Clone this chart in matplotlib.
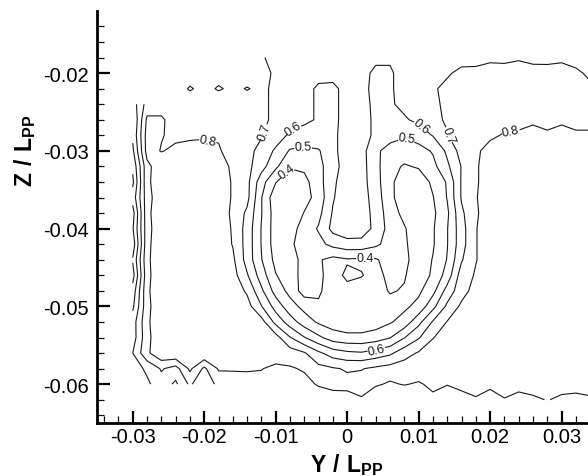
import matplotlib
matplotlib.use('Agg')
import matplotlib.pyplot as plt
import numpy as np

# fonts: Arial-like text, bold axis titles with PP subscript
plt.rcParams['font.family'] = ['Liberation Sans', 'DejaVu Sans']
plt.rcParams['axes.unicode_minus'] = False
plt.rcParams['mathtext.fontset'] = 'custom'
plt.rcParams['mathtext.rm'] = 'Liberation Sans'
plt.rcParams['mathtext.bf'] = 'Liberation Sans:bold'

# ========================== data ==========================
# measurement grid (Y / Lpp across, Z / Lpp down), step 0.002
y_coords = np.linspace(-0.030, 0.034, 33)
z_coords = np.linspace(-0.018, -0.062, 23)

# axial velocity ratio x100 (top -> bottom)
wake_rows = [
    "nan nan nan 74 75 74 75 74 73 71 67 65 64 63 64 66 65 62 61 63 65 66 67 67 66 68 67 69 67 66 68 66 66",
    "nan nan nan 74 75 74 74 75 74 72 69 66 64 62 63 66 63 58 59 63 66 68 69 72 73 74 75 74 74 75 74 72 68",
    "nan nan nan 75 69 73 69 72 69.5 72 68 64 62 59 58 63 62 58 59 63 66 69 72 74 75 75 74 75 75 74 75 74 72",
    "55 74 77 77 76 77 76 75 74 72 68 65 62 59 58 63 63 58 59 62 65 69 71 74 76 77 77 78 77 78 77 77 76",
    "50 82 81 77 76 77 76 75 74 72 68 64 62 59 58 63 64 58 56 59 62 68 71 74 76 77 78 78 79 78 79 78 78",
    "52 84 80.5 78 78 79 79 76 73 70.5 66 58 56 57 58 64 64 58 54 51 55 60.5 69.5 75 77 79 80.5 81 82 81 82 81 81",
    "48 84 79.5 82 84 83 81 76 72 68 58 49 48 49 58 64 64 52 46 45 46 51 62 74 79 82 84 85 85 86 85 86 85",
    "42 77 87 86 87 86 85 78 73 64 52 41 42 47 56 65 64 53 43 39 41 47 58 70.5 79 84 86 87 86 87 86 87 86",
    "38 78 86 87 88 88 86 79 73 54 40.5 34 37 46 58 66 64 54 42 35 34 42 51 71 79 84 86 87 88 87 88 87 87",
    "44 76 87 88 88 89 86 79 73 50.5 33 31 36 44 59 67 65 55 43 33 31 39.5 50.5 71 79.5 84 87 88 88 89 88 88 87",
    "36 77 88 89 88 89 86 78 68 50.5 35 32 40.5 47 61 68 66 56 45 37 30 38 48 68 79 84 87 88 89 88 89 88 88",
    "39 76 88 89 89 88 86 79 66 49.5 35 36 44 51 63 67 66 57 46 41 33 39 49.5 66 79.5 85.5 88 88 89 89 88 89 88",
    "34 77 88 89 89 89 86 79.5 66 49.5 35 38 45 47 53 56 56 52 46 42 33 39 49.5 66 79.5 85.5 88 89 88 89 88 89 88",
    "41 78 87 89 88 89 87 82 66 50.5 37 36 43 41 37 39 38.5 39 44 43 34 40.5 50.5 69 79.5 85.5 88 88 89 88 89 88 89",
    "36 77 88 89 89 88 88 84 71 55 40.5 35 44 42 36 42 40.5 37 42.5 41 33 42 54 75 81 86 88 89 88 89 88 89 88",
    "44 78 88 89 88 89 88 86 78.5 62 46 37 42 41.5 35 37 36 35 41 39 38 47 64 76 84 87 88 89 88 89 88 88 89",
    "48 77 88 89 88 88 89 88 84 70.5 56 44 37 38.5 36 34 33 34 36 38 43 57 72 82 86 88 89 88 89 88 89 88 88",
    "55 78 88 89 88 89 88 89 88 84 67 55 45 38.5 35 33 33 35 39 44 57 71 80.5 86 88 89 88 89 88 89 88 89 88",
    "55 77 88 89 88 89 88 89 88 89 84 70.5 60.5 52 45 43 43 45 49.5 59.5 69 79.5 85 88 89 88 89 88 89 88 89 88 89",
    "60 78 88 89 88 89 88 89 88 88 87 85 81 72 65 62 61 64 68 76 81 86 88 89 88 89 88 89 88 89 88 89 88",
    "55 62 71 66 82 68 81 81 82 80.5 77 79 81 83 81 79 79.5 82 84 85 85 86 87 86 87 88 87 88 87 88 87 88 87",
    "nan 58 66 58 72 60 74 75 72 76 73 75 77 81 82 83 84 81 79 80.5 79 82 80.5 83 84 82 84 83 85 83 84 84 83",
    "nan nan nan nan nan nan nan nan nan nan nan nan nan 74 77 76 79 74 77 72 75 78 73 76 79 76 79.5 77 78 80.5 78 77 79",
]

levels = [0.4, 0.5, 0.6, 0.7, 0.8]

# where the contour labels sit (Y, Z)
label_pos = [(-0.0196, -0.0289), (0.0228, -0.0270),
             (-0.0118, -0.0275), (0.0144, -0.0279),
             (-0.0077, -0.0270), (0.0102, -0.0270), (0.0042, -0.0559),
             (-0.0062, -0.0294), (0.0084, -0.0282),
             (-0.0084, -0.0327), (0.0025, -0.0441)]

x_ticks = [-0.03, -0.02, -0.01, 0.0, 0.01, 0.02, 0.03]
x_tick_labels = ['-0.03', '-0.02', '-0.01', '0', '0.01', '0.02', '0.03']
y_ticks = [-0.06, -0.05, -0.04, -0.03, -0.02]
y_tick_labels = ['-0.06', '-0.05', '-0.04', '-0.03', '-0.02']


def main():
    wake = np.array([[float(v) for v in r.split()] for r in wake_rows]) / 100.0
    wake = np.ma.masked_invalid(wake)
    Y, Z = np.meshgrid(y_coords, z_coords)

    fig = plt.figure(figsize=(5.88, 4.77), dpi=100)
    ax = fig.add_axes([0.165, 0.111, 0.835, 0.864])

    cs = ax.contour(Y, Z, wake, levels=levels, colors='#1a1a1a', linewidths=0.8)
    ax.clabel(cs, fmt='%.1f', fontsize=9, inline=True, inline_spacing=1,
              manual=label_pos)

    ax.set_xlim(-0.035, 0.0337)
    ax.set_ylim(-0.065, -0.012)

    # tecplot-like frame: only left/bottom axis, ticks pointing inside
    for side in ['top', 'right']:
        ax.spines[side].set_visible(False)
    for side in ['left', 'bottom']:
        ax.spines[side].set_linewidth(2)

    ax.set_xticks(x_ticks)
    ax.set_xticklabels(x_tick_labels)
    ax.set_yticks(y_ticks)
    ax.set_yticklabels(y_tick_labels)
    ax.set_xticks(np.arange(-0.034, 0.0335, 0.002), minor=True)
    ax.set_yticks(np.arange(-0.064, -0.0125, 0.002), minor=True)
    ax.tick_params(which='major', direction='in', length=9, width=1.6,
                   labelsize=14.5)
    ax.tick_params(axis='x', which='major', pad=3)
    ax.tick_params(axis='y', which='major', pad=6)
    ax.tick_params(which='minor', direction='in', length=5, width=0.9)
    ax.tick_params(top=False, right=False, which='both')

    ax.set_xlabel(r'$\mathbf{Y\ /\ L_{PP}}$', fontsize=16.5)
    ax.set_ylabel(r'$\mathbf{Z\ /\ L_{PP}}$', fontsize=16.5)
    ax.xaxis.set_label_coords(0.509, -0.068)
    ax.yaxis.set_label_coords(-0.12, 0.663)

    fig.savefig('out.png', dpi=100)


if __name__ == '__main__':
    main()
